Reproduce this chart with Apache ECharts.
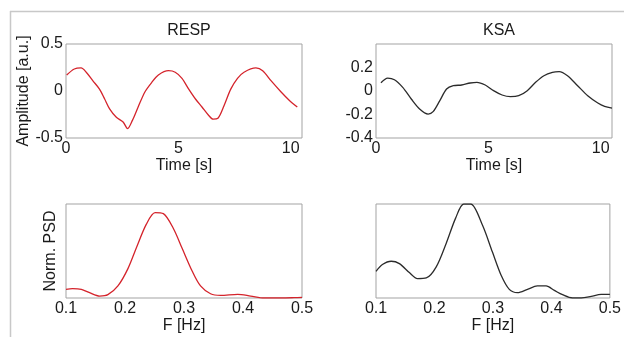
<!DOCTYPE html>
<html>
<head>
<meta charset="utf-8">
<script src="https://cdn.jsdelivr.net/npm/echarts@6/dist/echarts.min.js"></script>
<style>
  html, body { margin: 0; padding: 0; background: #fff; }
  #chart { width: 624px; height: 337px; }
</style>
</head>
<body>
<div id="chart"></div>
<script>
// time-domain signals, [time s, amplitude a.u.]
const respTime = [
  [0.03, 0.17], [0.37, 0.234], [0.67, 0.245], [0.9, 0.2], [1.19, 0.11], [1.49, 0.02],
  [1.72, -0.085], [1.94, -0.19], [2.24, -0.28], [2.54, -0.33], [2.74, -0.40], [2.96, -0.31],
  [3.21, -0.17], [3.51, -0.01], [3.81, 0.09], [4.11, 0.17], [4.56, 0.216], [4.86, 0.2],
  [5.16, 0.135], [5.46, 0.02], [5.76, -0.085], [6.05, -0.17], [6.35, -0.26], [6.55, -0.30],
  [6.76, -0.29], [7.03, -0.156], [7.33, 0.02], [7.63, 0.135], [7.92, 0.2], [8.45, 0.245],
  [8.75, 0.216], [9.12, 0.11], [9.57, -0.01], [9.94, -0.1], [10.29, -0.17]
];
const ksaTime = [
  [0.22, 0.07], [0.52, 0.11], [0.82, 0.096], [1.19, 0.031], [1.57, -0.068], [1.94, -0.153],
  [2.32, -0.196], [2.54, -0.176], [2.84, -0.082], [3.14, 0.017], [3.44, 0.045], [3.81, 0.051],
  [4.19, 0.068], [4.49, 0.074], [4.86, 0.051], [5.23, 0.003], [5.61, -0.034], [5.98, -0.048],
  [6.35, -0.04], [6.73, 0.003], [7.1, 0.074], [7.47, 0.13], [7.85, 0.159], [8.15, 0.165],
  [8.52, 0.13], [8.97, 0.045], [9.42, -0.04], [9.87, -0.102], [10.17, -0.13], [10.5, -0.145]
];
// normalised power spectra, [frequency Hz, PSD]
const respPsd = [
  [0.1, 0.101], [0.111, 0.109], [0.126, 0.101], [0.14, 0.062], [0.157, 0.023], [0.171, 0.039],
  [0.188, 0.141], [0.205, 0.344], [0.22, 0.6], [0.236, 0.861], [0.251, 1.0], [0.265, 0.988],
  [0.282, 0.814], [0.297, 0.579], [0.314, 0.313], [0.328, 0.141], [0.345, 0.05], [0.362, 0.031],
  [0.391, 0.043], [0.413, 0.023], [0.436, 0.0], [0.465, 0.0], [0.487, 0.004], [0.5, 0.008]
];
const ksaPsd = [
  [0.1, 0.284], [0.111, 0.356], [0.126, 0.391], [0.14, 0.366], [0.157, 0.27], [0.171, 0.206],
  [0.186, 0.213], [0.203, 0.331], [0.22, 0.58], [0.236, 0.847], [0.25, 1.0], [0.262, 1.0],
  [0.282, 0.776], [0.299, 0.491], [0.314, 0.242], [0.328, 0.092], [0.342, 0.057], [0.359, 0.092],
  [0.376, 0.128], [0.391, 0.128], [0.405, 0.081], [0.419, 0.035], [0.436, 0.0], [0.451, 0.0],
  [0.468, 0.017], [0.485, 0.039], [0.5, 0.039]
];

// tick labels shown on each axis
const timeTicks = [0, 5, 10];
const freqTicks = [0.1, 0.2, 0.3, 0.4, 0.5];
const respTicks = [-0.5, 0, 0.5];
const ksaTicks = [-0.4, -0.2, 0, 0.2];

const FONT = 'Liberation Sans, Arial, sans-serif';
const RED = '#d4232b';
const BLACK = '#2b2b2b';

const onlyTicks = list => v => list.some(t => Math.abs(t - v) < 1e-6) ? String(+v.toFixed(2)) : '';

const chart = echarts.init(document.getElementById('chart'));

const grids = [
  { left: 66, top: 44, width: 236, height: 94 },
  { left: 376, top: 44, width: 236, height: 94 },
  { left: 66, top: 204, width: 236, height: 94 },
  { left: 376, top: 204, width: 236, height: 94 }
].map(g => ({ ...g, show: true, borderColor: '#a3a3a3', borderWidth: 1, backgroundColor: '#fff' }));

const labelStyle = { color: '#1a1a1a', fontSize: 16, fontFamily: FONT };
const nameStyle = { color: '#1a1a1a', fontSize: 16, fontFamily: FONT };

function xAxis(gridIndex, min, max, interval, ticks, name) {
  return {
    type: 'value', gridIndex, min, max, interval,
    name, nameLocation: 'middle', nameGap: 19, nameTextStyle: nameStyle,
    axisLine: { show: false }, axisTick: { show: false }, splitLine: { show: false },
    axisLabel: { ...labelStyle, margin: 3, formatter: onlyTicks(ticks), showMaxLabel: true, hideOverlap: false }
  };
}
function yAxis(gridIndex, min, max, interval, ticks, name, gap, showLabels) {
  return {
    type: 'value', gridIndex, min, max, interval,
    name, nameLocation: 'middle', nameGap: gap, nameRotate: 90, nameTextStyle: nameStyle,
    axisLine: { show: false }, axisTick: { show: false }, splitLine: { show: false },
    axisLabel: { ...labelStyle, show: showLabels, margin: 3, formatter: onlyTicks(ticks), hideOverlap: false }
  };
}

const option = {
  animation: false,
  backgroundColor: '#fff',
  title: [
    { text: 'RESP', left: 184, top: 18, textAlign: 'center', textStyle: { ...nameStyle, fontWeight: 'normal' } },
    { text: 'KSA', left: 494, top: 18, textAlign: 'center', textStyle: { ...nameStyle, fontWeight: 'normal' } }
  ],
  graphic: [
    { type: 'line', shape: { x1: 10, y1: 11.5, x2: 624, y2: 11.5 }, style: { stroke: '#c8c8c8', lineWidth: 1.5 }, silent: true },
    { type: 'line', shape: { x1: 10.5, y1: 11, x2: 10.5, y2: 337 }, style: { stroke: '#c8c8c8', lineWidth: 1.5 }, silent: true }
  ],
  grid: grids,
  xAxis: [
    xAxis(0, 0, 10.5, 5, timeTicks, 'Time [s]'),
    xAxis(1, 0, 10.5, 5, timeTicks, 'Time [s]'),
    xAxis(2, 0.1, 0.5, 0.1, freqTicks, 'F [Hz]'),
    xAxis(3, 0.1, 0.5, 0.1, freqTicks, 'F [Hz]')
  ],
  yAxis: [
    yAxis(0, -0.5, 0.5, 0.5, respTicks, 'Amplitude [a.u.]', 33, true),
    yAxis(1, -0.4, 0.4, 0.2, ksaTicks, '', 30, true),
    yAxis(2, 0, 1.1, 0.1, [], 'Norm. PSD', 7, false),
    yAxis(3, 0, 1.0, 0.1, [], '', 7, false)
  ],
  series: [
    { type: 'line', xAxisIndex: 0, yAxisIndex: 0, data: respTime, color: RED },
    { type: 'line', xAxisIndex: 1, yAxisIndex: 1, data: ksaTime, color: BLACK },
    { type: 'line', xAxisIndex: 2, yAxisIndex: 2, data: respPsd, color: RED },
    { type: 'line', xAxisIndex: 3, yAxisIndex: 3, data: ksaPsd, color: BLACK }
  ].map(s => ({ ...s, showSymbol: false, smooth: 0.3, lineStyle: { width: 1.3, color: s.color } }))
};

chart.setOption(option);
</script>
</body>
</html>
